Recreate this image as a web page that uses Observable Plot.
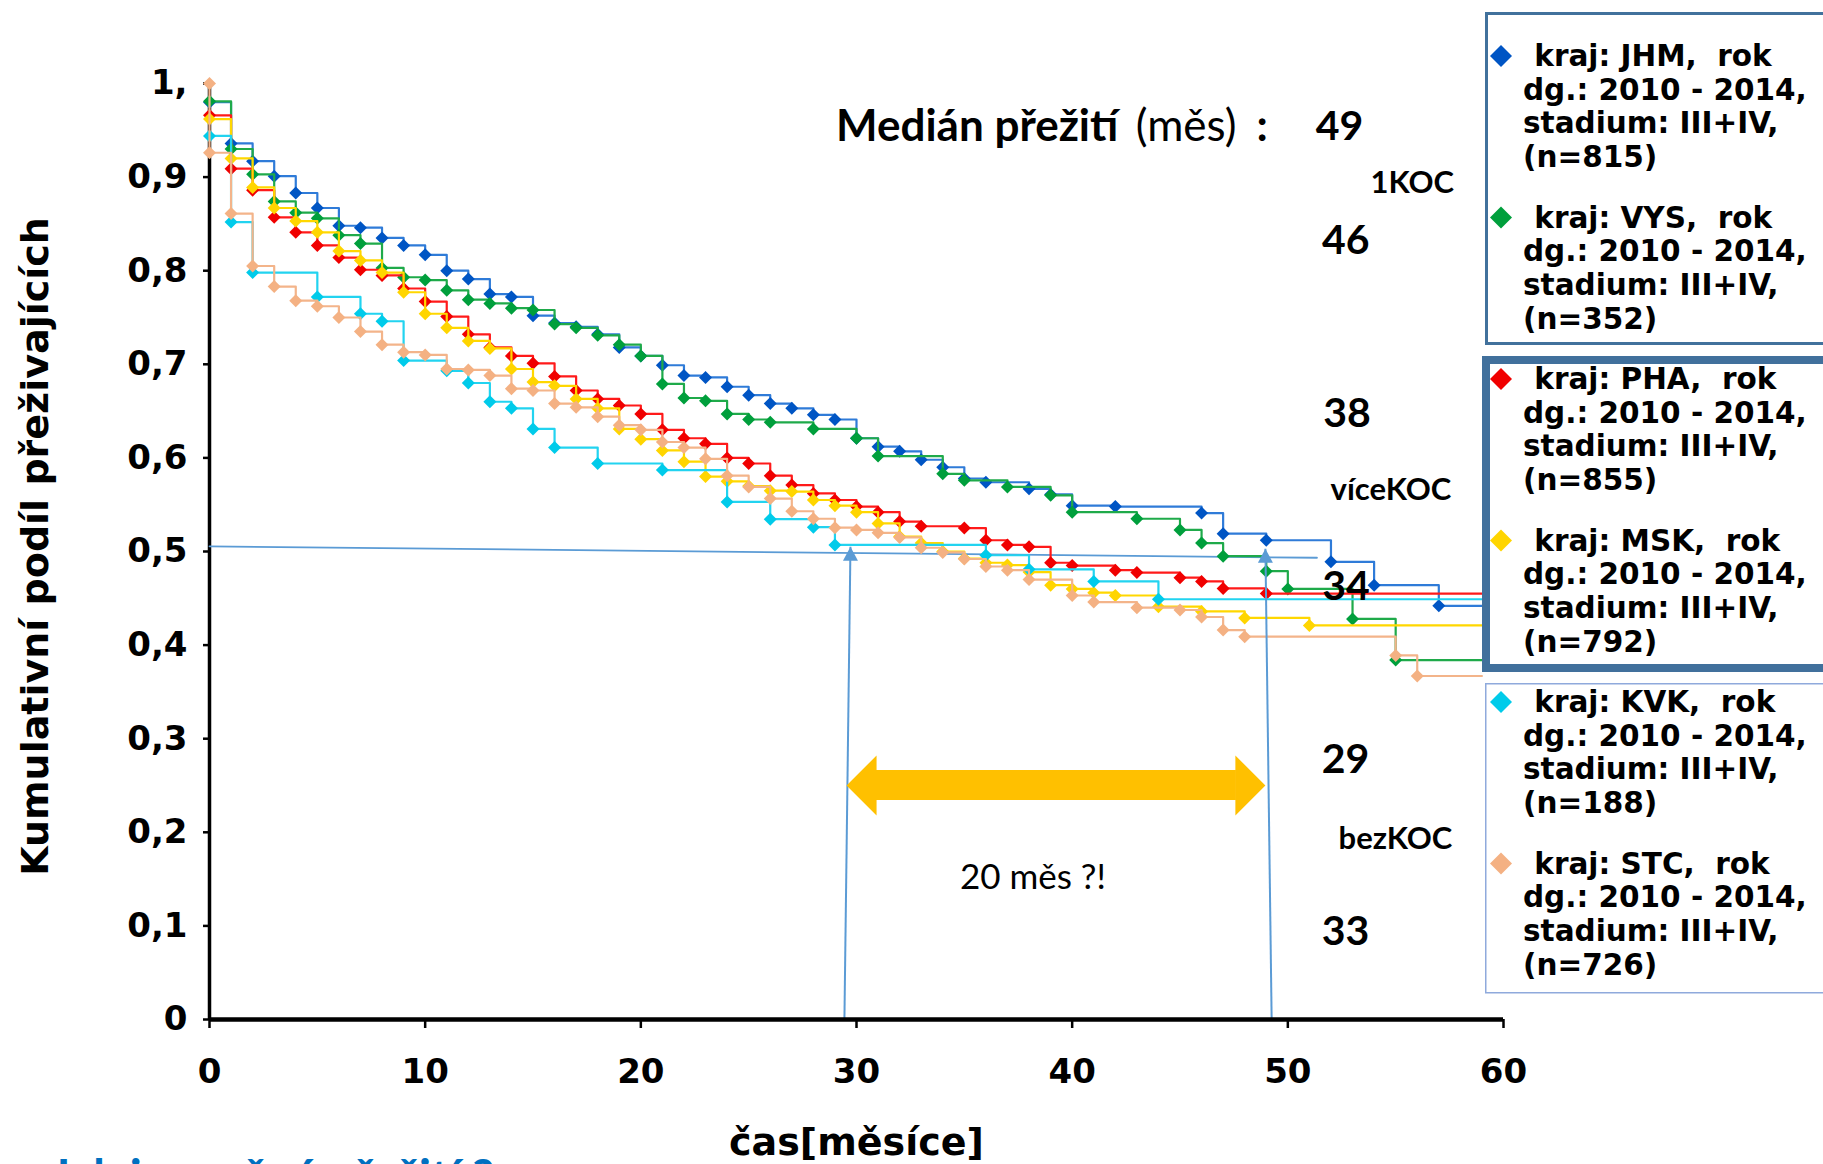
<!DOCTYPE html>
<html lang="cs">
<head>
<meta charset="utf-8">
<script src="https://cdn.jsdelivr.net/npm/d3@7"></script>
<script src="https://cdn.jsdelivr.net/npm/@observablehq/plot@0.6"></script>
<style>
  html,body{margin:0;padding:0;background:#fff;}
  #wrap{position:relative;width:1823px;height:1164px;overflow:hidden;background:#fff;}
  #wrap > svg{position:absolute;left:0;top:0;}
  #note{position:absolute;left:50px;top:1153px;font-family:Lato,sans-serif;font-weight:bold;font-size:47px;line-height:47px;color:#0070C0;white-space:pre;}
</style>
</head>
<body>
<div id="wrap"></div>
<script>
// ---------------- data ----------------
const regions = ["JHM", "VYS", "PHA", "MSK", "KVK", "STC"];
const counts = [815, 352, 855, 792, 188, 726];
const diagYears = "2010 - 2014";
const stageLabel = "III+IV";

const jhmMonths = [0,1,2,3,4,5,6,7,8,9,10,11,12,13,14,15,16,17,18,19,20,21,22,23,24,25,26,27,28,29,30,31,32,33,34,35,36,38,39,40,42,46,47,49,52,54,57];
const jhmSurv   = [0.980,0.936,0.917,0.901,0.883,0.867,0.848,0.846,0.835,0.827,0.817,0.800,0.791,0.775,0.772,0.752,0.744,0.740,0.732,0.718,0.709,0.699,0.688,0.686,0.676,0.667,0.658,0.653,0.646,0.641,0.621,0.612,0.607,0.598,0.590,0.578,0.574,0.567,0.561,0.549,0.548,0.541,0.519,0.512,0.489,0.464,0.442];

const vysMonths = [0,1,2,3,4,5,6,7,8,9,10,11,12,13,14,15,16,17,18,19,20,21,22,23,24,25,26,28,30,31,34,35,37,39,40,43,45,46,47,49,50,53,55];
const vysSurv   = [0.981,0.930,0.903,0.874,0.862,0.856,0.838,0.829,0.803,0.793,0.790,0.779,0.769,0.765,0.760,0.758,0.743,0.739,0.731,0.721,0.709,0.679,0.664,0.661,0.647,0.641,0.638,0.631,0.621,0.602,0.583,0.576,0.569,0.560,0.542,0.535,0.523,0.509,0.495,0.479,0.460,0.428,0.384];

const phaMonths = [0,1,2,3,4,5,6,7,8,9,10,11,12,13,14,15,16,17,18,19,20,21,22,23,24,25,26,27,28,29,30,31,32,33,35,36,37,38,39,40,42,43,45,46,47,49];
const phaSurv   = [0.966,0.909,0.886,0.857,0.841,0.827,0.814,0.801,0.795,0.781,0.767,0.751,0.732,0.718,0.709,0.701,0.687,0.672,0.663,0.656,0.647,0.630,0.621,0.615,0.600,0.594,0.581,0.571,0.562,0.555,0.548,0.542,0.532,0.527,0.525,0.512,0.507,0.505,0.488,0.485,0.480,0.4775,0.472,0.468,0.4605,0.455];

const mskMonths = [0,1,2,3,4,5,6,7,8,9,10,11,12,13,14,15,16,17,18,19,20,21,22,23,24,25,26,27,28,29,30,31,32,33,34,35,36,37,38,39,40,41,42,44,46,48,51];
const mskSurv   = [0.962,0.920,0.889,0.867,0.853,0.841,0.821,0.811,0.798,0.777,0.754,0.739,0.725,0.717,0.695,0.681,0.677,0.663,0.653,0.631,0.620,0.608,0.596,0.580,0.575,0.570,0.565,0.564,0.555,0.549,0.542,0.530,0.516,0.509,0.500,0.4925,0.488,0.4855,0.478,0.464,0.460,0.456,0.453,0.441,0.436,0.429,0.421];

const kvkMonths = [0,1,2,5,7,8,9,11,12,13,14,15,16,18,21,24,26,28,29,36,38,41,44];
const kvkSurv   = [0.944,0.852,0.798,0.772,0.754,0.746,0.704,0.693,0.680,0.660,0.653,0.631,0.611,0.594,0.587,0.553,0.5345,0.526,0.507,0.496,0.481,0.468,0.449];

const stcMonths = [0,0,1,2,3,4,5,6,7,8,9,10,11,12,13,14,15,16,17,18,19,20,21,22,23,24,25,26,27,28,29,30,31,32,33,34,35,36,37,38,40,41,43,45,46,47,48,55,56];
const stcSurv   = [1.000,0.926,0.861,0.805,0.783,0.768,0.762,0.750,0.735,0.721,0.713,0.710,0.695,0.694,0.688,0.674,0.672,0.658,0.654,0.644,0.635,0.630,0.617,0.611,0.599,0.581,0.569,0.5565,0.543,0.535,0.5255,0.523,0.520,0.515,0.504,0.499,0.492,0.484,0.480,0.470,0.453,0.446,0.440,0.4375,0.430,0.416,0.409,0.389,0.367];

const followUpEnd = 59;

const xTicks = [0, 10, 20, 30, 40, 50, 60];
const xTickLabels = ["0", "10", "20", "30", "40", "50", "60"];
const yTicks = [0, 0.1, 0.2, 0.3, 0.4, 0.5, 0.6, 0.7, 0.8, 0.9, 1];
const yTickLabels = ["0", "0,1", "0,2", "0,3", "0,4", "0,5", "0,6", "0,7", "0,8", "0,9", "1,"];
const xTitle = "čas[měsíce]";
const yTitle = "Kumulativní podíl přeživajících";

// annotations (data units: months, survival)
const refLineMonths = [0, 51.35];
const refLineSurv = [0.5055, 0.4933];
const arrowBaseMonths = [29.44, 49.25];
const arrowTipMonths = [29.72, 48.96];
const arrowTipSurv = [0.505, 0.503];
const gapMonths = [29.54, 48.96];
const gapSurv = 0.25;
const gapText = "20 měs ?!";
const gapTextMonth = 38.18, gapTextSurv = 0.1516;

const headerParts = ["Medián přežití", "(měs)", ":"];
const headerMonths = [29.05, 42.95, 48.55];
const headerSurv = 0.954;
const medianValues = ["49", "46", "38", "34", "29", "33"];
const medianMonths = [52.40, 52.69, 52.74, 52.70, 52.67, 52.67];
const medianSurv = [0.954, 0.832, 0.6467, 0.4619, 0.277, 0.0933];
const groupLabels = ["1KOC", "víceKOC", "bezKOC"];
const groupMonths = [55.77, 54.78, 54.99];
const groupSurv = [0.8937, 0.5652, 0.1928];

const bottomNote = "Jak je možné přežití ?";

// ---------------- styles ----------------
const markerColors = {JHM: "#0055C4", VYS: "#009F3C", PHA: "#F00000", MSK: "#FFD500", KVK: "#00CBEA", STC: "#F4B183"};
const lineColors   = {JHM: "#2F7BD8", VYS: "#1FAA4A", PHA: "#FF1A1A", MSK: "#FFD700", KVK: "#22D3F0", STC: "#F3B48A"};
const refBlue = "#5B9BD5";
const gapOrange = "#FFC000";

// ---------------- build ----------------
const seriesData = [
  {key: "JHM", months: jhmMonths, surv: jhmSurv},
  {key: "VYS", months: vysMonths, surv: vysSurv},
  {key: "PHA", months: phaMonths, surv: phaSurv},
  {key: "MSK", months: mskMonths, surv: mskSurv},
  {key: "KVK", months: kvkMonths, surv: kvkSurv},
  {key: "STC", months: stcMonths, surv: stcSurv}
];

const diamond = {draw(ctx, size) { const h = Math.sqrt(size / Math.PI); ctx.moveTo(0, -h); ctx.lineTo(h, 0); ctx.lineTo(0, h); ctx.lineTo(-h, 0); ctx.closePath(); }};
const headUp = {draw(ctx) { ctx.moveTo(0, 0); ctx.lineTo(7.5, 14); ctx.lineTo(-7.5, 14); ctx.closePath(); }};
const headLeft = {draw(ctx) { ctx.moveTo(0, 0); ctx.lineTo(30, -30); ctx.lineTo(30, 30); ctx.closePath(); }};
const headRight = {draw(ctx) { ctx.moveTo(0, 0); ctx.lineTo(-30, -30); ctx.lineTo(-30, 30); ctx.closePath(); }};

const seriesMarks = [];
for (const s of seriesData) {
  const pts = s.months.map((t, i) => ({t, s: s.surv[i]}));
  const linePts = pts.concat([{t: followUpEnd, s: s.surv[s.surv.length - 1]}]);
  seriesMarks.push(Plot.line(linePts, {x: "t", y: "s", curve: "step-after", stroke: lineColors[s.key], strokeWidth: 2.2}));
  seriesMarks.push(Plot.dot(pts, {x: "t", y: "s", symbol: diamond, r: 6.5, fill: markerColors[s.key], stroke: "none"}));
}

const refRows = refLineMonths.map((t, i) => ({t, s: refLineSurv[i]}));
const arrowRows = arrowBaseMonths.map((t, i) => ({t0: t, s0: 0, t1: arrowTipMonths[i], s1: arrowTipSurv[i]}));
const gapRow = [{t0: gapMonths[0], t1: gapMonths[1], s: gapSurv}];
const medianRows = medianValues.map((v, i) => ({label: v, t: medianMonths[i], s: medianSurv[i]}));
const groupRows = groupLabels.map((v, i) => ({label: v, t: groupMonths[i], s: groupSurv[i]}));
const headerRows = headerParts.map((v, i) => ({label: v, t: headerMonths[i], s: headerSurv, bold: i !== 1}));

const plot = Plot.plot({
  width: 1823,
  height: 1164,
  marginLeft: 209,
  marginRight: 320,
  marginTop: 83,
  marginBottom: 145,
  x: {domain: [0, 60]},
  y: {domain: [0, 1]},
  style: {background: "transparent", color: "#000"},
  marks: [
    Plot.axisY({ticks: yTicks, tickFormat: d => yTickLabels[yTicks.indexOf(d)], tickSize: 6, tickPadding: 16, strokeWidth: 2.5,
      fontSize: 34, fontWeight: "bold", fontFamily: "DejaVu Sans", label: null}),
    Plot.axisX({ticks: xTicks, tickFormat: d => xTickLabels[xTicks.indexOf(d)], tickSize: 9, tickPadding: 30, strokeWidth: 2.5,
      fontSize: 34, fontWeight: "bold", fontFamily: "DejaVu Sans", label: null}),
    Plot.ruleX([0], {y1: 0, y2: 1, stroke: "#000", strokeWidth: 3.5}),
    Plot.line(refRows, {x: "t", y: "s", stroke: refBlue, strokeWidth: 1.8}),
    ...seriesMarks,
    Plot.link(arrowRows, {x1: "t0", y1: "s0", x2: "t1", y2: "s1", stroke: refBlue, strokeWidth: 2}),
    Plot.dot(arrowRows, {x: "t1", y: "s1", symbol: headUp, r: 1, fill: refBlue, stroke: "none"}),
    Plot.ruleY([0], {x1: 0, x2: 60, stroke: "#000", strokeWidth: 4.5}),
    Plot.rect(gapRow, {x1: "t0", x2: "t1", y1: "s", y2: "s", insetLeft: 29, insetRight: 29, insetTop: -15, insetBottom: -15, fill: gapOrange}),
    Plot.dot(gapRow, {x: "t0", y: "s", symbol: headLeft, r: 1, fill: gapOrange, stroke: "none"}),
    Plot.dot(gapRow, {x: "t1", y: "s", symbol: headRight, r: 1, fill: gapOrange, stroke: "none"}),
    Plot.text([gapText], {x: gapTextMonth, y: gapTextSurv, text: d => d, fontSize: 35, fontFamily: "Lato", fill: "#000"}),
    Plot.text(headerRows.filter(d => d.bold), {x: "t", y: "s", text: "label", textAnchor: "start", fontSize: 44, fontWeight: "bold", fontFamily: "Lato", fill: "#000"}),
    Plot.text(headerRows.filter(d => !d.bold), {x: "t", y: "s", text: "label", textAnchor: "start", fontSize: 44, fontFamily: "Lato", fill: "#000"}),
    Plot.text(medianRows, {x: "t", y: "s", text: "label", fontSize: 41, fontWeight: "bold", fontFamily: "Lato", fill: "#000"}),
    Plot.text(groupRows, {x: "t", y: "s", text: "label", fontSize: 31, fontWeight: "bold", fontFamily: "Lato", fill: "#000"}),
    Plot.text([xTitle], {frameAnchor: "bottom", text: d => d, lineAnchor: "bottom", dy: 135, fontSize: 38, fontWeight: "bold", fontFamily: "DejaVu Sans", fill: "#000"}),
    Plot.text([yTitle], {frameAnchor: "left", textAnchor: "middle", text: d => d, rotate: -90, dx: -174, dy: -5, fontSize: 38, fontWeight: "bold", fontFamily: "DejaVu Sans", fill: "#000"})
  ]
});

const wrap = document.getElementById("wrap");
wrap.appendChild(plot);

// ---------------- legend (overlay, right side) ----------------
const lg = d3.select(wrap).append("svg")
  .attr("width", 1823).attr("height", 1164)
  .style("position", "absolute").style("left", "0px").style("top", "0px");

const boxes = [
  {x: 1486.5, y: 13.5, w: 400, h: 330, sw: 3, color: "#41719C"},
  {x: 1486, y: 360, w: 400, h: 308, sw: 8, color: "#41709C"},
  {x: 1485.75, y: 683.75, w: 400, h: 309, sw: 1.5, color: "#8FAADC"}
];
for (const b of boxes) {
  lg.append("rect").attr("x", b.x).attr("y", b.y).attr("width", b.w).attr("height", b.h)
    .attr("fill", "#fff").attr("stroke", b.color).attr("stroke-width", b.sw);
}
regions.forEach((r, k) => {
  const base = 66 + k * 161.5;
  const lines = [" kraj: " + r + ",  rok", "dg.: " + diagYears + ",", "stadium: " + stageLabel + ",", "(n=" + counts[k] + ")"];
  const cy = base - 10;
  lg.append("path").attr("d", `M1501,${cy - 11}L1512,${cy}L1501,${cy + 11}L1490,${cy}Z`).attr("fill", markerColors[r]);
  lines.forEach((t, j) => {
    lg.append("text").attr("x", j === 0 ? 1524 : 1523).attr("y", base + j * 33.7)
      .attr("font-family", "DejaVu Sans").attr("font-weight", "bold").attr("font-size", 29.5)
      .attr("fill", "#000").attr("xml:space", "preserve").style("white-space", "pre").text(t);
  });
});

const note = document.createElement("div");
note.id = "note";
note.textContent = bottomNote;
wrap.appendChild(note);
</script>
</body>
</html>
